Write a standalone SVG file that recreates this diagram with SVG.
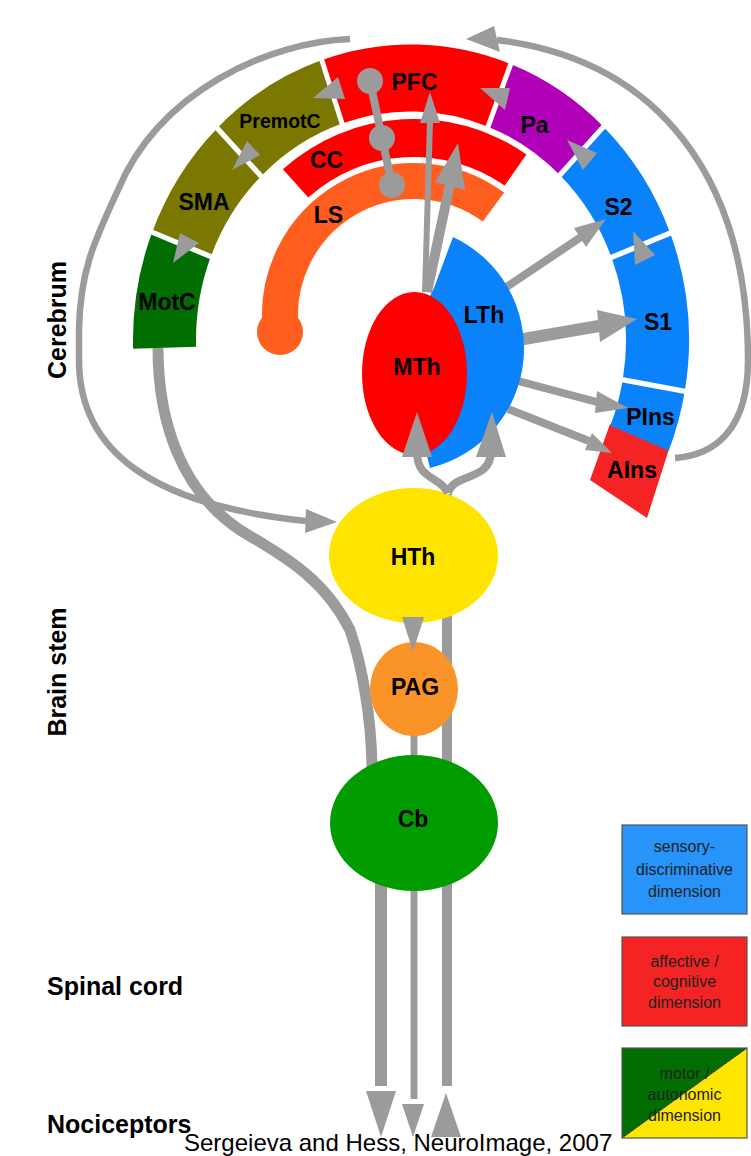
<svg xmlns="http://www.w3.org/2000/svg" width="751" height="1156" viewBox="0 0 751 1156">
<style>
text{font-family:"Liberation Sans",Arial,Helvetica,sans-serif}
.lb{font-weight:bold;font-size:23px;text-anchor:middle;fill:#000}
.side{font-weight:bold;font-size:25px;fill:#000}
.lg{font-size:16px;text-anchor:middle;fill:#222}
.ln{fill:none;stroke:#9b9b9b;stroke-linecap:butt;stroke-linejoin:round}
.ah{fill:#9b9b9b}
.gap{stroke:#fff;stroke-width:5}
.box{fill:none;stroke:#555;stroke-width:1.2}
</style>
<rect width="751" height="1156" fill="#fff"/>

<!-- outer ring segments -->
<g id="AIns"><path d="M610,424 L669,449 L647,518 L590,480 Z" fill="#f42424"/></g>
<g id="MotC"><path transform="matrix(1,0,0,1.063,411,340)" d="M-277.88,8.25 A278,278 0 0 1 -258.83,-101.44 L-200.18,-78.45 A215,215 0 0 0 -214.9,6.38 Z" fill="#006e00"/><text class="lb" x="167" y="310">MotC</text></g>
<g id="SMA"><path transform="matrix(1,0,0,1.063,411,340)" d="M-258.83,-101.44 A278,278 0 0 1 -193.81,-199.3 L-149.89,-154.14 A215,215 0 0 0 -200.18,-78.45 Z" fill="#7a7800"/><text class="lb" x="204" y="210">SMA</text></g>
<g id="PremotC"><path transform="matrix(1,0,0,1.063,411,340)" d="M-193.81,-199.3 A278,278 0 0 1 -89.13,-263.32 L-68.93,-203.65 A215,215 0 0 0 -149.89,-154.14 Z" fill="#7a7800"/><text class="lb" x="280" y="128" style="font-size:19.5px">PremotC</text></g>
<g id="PFC"><path transform="matrix(1,0,0,1.063,411,340)" d="M-89.13,-263.32 A278,278 0 0 1 99.63,-259.54 L77.05,-200.72 A215,215 0 0 0 -68.93,-203.65 Z" fill="#ff0000"/><text class="lb" x="414.5" y="90">PFC</text></g>
<g id="Pa"><path transform="matrix(1,0,0,1.063,411,340)" d="M99.63,-259.54 A278,278 0 0 1 192.41,-200.65 L148.81,-155.18 A215,215 0 0 0 77.05,-200.72 Z" fill="#b000b8"/><text class="lb" x="534.5" y="133">Pa</text></g>
<g id="S2"><path transform="matrix(1,0,0,1.063,411,340)" d="M192.41,-200.65 A278,278 0 0 1 259.19,-100.53 L200.45,-77.75 A215,215 0 0 0 148.81,-155.18 Z" fill="#0a82fa"/><text class="lb" x="618.5" y="215">S2</text></g>
<g id="S1"><path transform="matrix(1,0,0,1.063,411,340)" d="M259.19,-100.53 A278,278 0 0 1 273.78,48.27 L211.73,37.33 A215,215 0 0 0 200.45,-77.75 Z" fill="#0a82fa"/><text class="lb" x="658" y="330">S1</text></g>
<g id="PIns"><path transform="matrix(1,0,0,1.063,411,340)" d="M273.78,48.27 A278,278 0 0 1 257.76,104.14 L199.34,80.54 A215,215 0 0 0 211.73,37.33 Z" fill="#0a82fa"/><text class="lb" x="650.5" y="425">PIns</text></g>
<g id="AIns-label"><text class="lb" x="632" y="478">AIns</text></g>
<g id="ring-gaps" class="gap" transform="matrix(1,0,0,1.063,411,340)">
<line x1="-195.5" y1="-76.6" x2="-264.4" y2="-103.6"/>
<line x1="-146.4" y1="-150.5" x2="-198" y2="-203.6"/>
<line x1="-67.3" y1="-198.9" x2="-91.1" y2="-269"/>
<line x1="75.3" y1="-196.1" x2="101.8" y2="-265.1"/>
<line x1="145.4" y1="-151.6" x2="196.6" y2="-205"/>
<line x1="195.8" y1="-75.9" x2="264.8" y2="-102.7"/>
<line x1="206.8" y1="36.5" x2="279.7" y2="49.3"/>
</g>

<!-- inner arcs -->
<g id="CC"><path d="M282.85,169.34 A196,196 0 0 1 526.42,154.45 L504.63,185.57 A158,158 0 0 0 308.28,197.58 Z" fill="#ff0000"/><text class="lb" x="326.5" y="168">CC</text></g>
<g id="LS"><path d="M281.1,332 A134,134 0 0 1 493.5,207.1" fill="none" stroke="#ff5e1e" stroke-width="36"/><circle cx="280" cy="332" r="23" fill="#ff5e1e"/><text class="lb" x="328.5" y="223">LS</text></g>

<!-- connectors (behind lower nodes) -->
<g id="connectors">
<path class="ln" stroke-width="6.5" d="M350,39 C270,42 160,90 118,190 C95,240 80,270 79,330 L79,360 C79,450 150,505 306,521"/>
<polygon class="ah" points="337,522 306,509 305,533"/>
<path class="ln" stroke-width="6.5" d="M675,458 C715,455 748,430 748,360 C748,180 660,60 497,40"/>
<polygon class="ah" points="466,39 494,26 500,52"/>
<path class="ln" stroke-width="11" d="M158,348 C158,420 180,490 240,530 C290,560 325,580 350,630 C362,665 372,720 372,772"/>
<line class="ln" stroke-width="12" x1="381" y1="850" x2="381" y2="1086"/>
<polygon class="ah" points="381,1137 366,1091 396,1091"/>
<line class="ln" stroke-width="7" x1="414" y1="725" x2="414" y2="1099"/>
<polygon class="ah" points="413,1137 402,1104 424,1104"/>
<line class="ln" stroke-width="10" x1="447" y1="494" x2="447" y2="1086"/>
<polygon class="ah" points="446,1093 431,1137 461,1137"/>
<line class="ln" stroke-width="6" x1="425" y1="292" x2="430" y2="121"/>
<polygon class="ah" points="430,92 420,123 440,123"/>
<line class="ln" stroke-width="10" x1="427" y1="292" x2="450" y2="184"/>
<polygon class="ah" points="458,143 435,182 465,190"/>
<line class="ln" stroke-width="8" x1="505" y1="288" x2="581" y2="237"/>
<polygon class="ah" points="606,219 574,228 586,247"/>
<line class="ln" stroke-width="12" x1="518" y1="340" x2="599" y2="326"/>
<polygon class="ah" points="637,319 597,310 600,342"/>
<line class="ln" stroke-width="8" x1="518" y1="381" x2="597" y2="402"/>
<polygon class="ah" points="628,408 597,391 595,413"/>
<line class="ln" stroke-width="8" x1="508" y1="409" x2="589" y2="441"/>
<polygon class="ah" points="612,453 592,433 585,450"/>
<polygon class="ah" points="180,233 199,243 173,263"/>
<polygon class="ah" points="247,141 260,155 232,170"/>
<polygon class="ah" points="338,77 345,99 313,98"/>
<polygon class="ah" points="480,88 510,88 505,110"/>
<polygon class="ah" points="567,140 597,153 583,170"/>
<polygon class="ah" points="633,231 655,255 635,265"/>
<polyline class="ln" stroke-width="8" points="370,81 382,138 392,185"/>
<circle class="ah" cx="370" cy="81" r="13"/>
<circle class="ah" cx="382" cy="138" r="13"/>
<circle class="ah" cx="392" cy="185" r="13"/>
</g>

<!-- central nodes -->
<g id="LTh"><path d="M453,237 A123,123 0 0 1 430,468 L418,420 L418,320 L434,288 Z" fill="#0a82fa"/><text class="lb" x="484" y="323">LTh</text></g>
<g id="MTh"><ellipse cx="414.5" cy="373.5" rx="52.5" ry="81.5" fill="#ff0000"/><text class="lb" x="417" y="375">MTh</text></g>
<g id="HTh"><ellipse cx="413.5" cy="555.5" rx="84.5" ry="67.5" fill="#ffe400"/><text class="lb" x="413" y="565">HTh</text></g>
<g id="PAG"><ellipse cx="414" cy="689" rx="44" ry="47" fill="#fa9428"/><text class="lb" x="415" y="695">PAG</text></g>
<g id="Cb"><ellipse cx="414" cy="823" rx="84" ry="68" fill="#009c00"/><text class="lb" x="413" y="827">Cb</text></g>

<!-- connectors drawn over nodes -->
<g id="connectors-over">
<polygon class="ah" points="413,652 402,617 424,617"/>
<path class="ln" stroke-width="8" d="M448,493 C440,476 417,480 417,452"/>
<polygon class="ah" points="417,412 402,457 432,457"/>
<path class="ln" stroke-width="8" d="M448,493 C454,472 490,482 491,452"/>
<polygon class="ah" points="492,412 476,457 506,457"/>
</g>

<!-- level labels -->
<g id="levels">
<text class="side" text-anchor="middle" transform="translate(66,320) rotate(-90)">Cerebrum</text>
<text class="side" text-anchor="middle" transform="translate(66,672) rotate(-90)">Brain stem</text>
<text class="side" x="47" y="995">Spinal cord</text>
<text class="side" x="47" y="1133">Nociceptors</text>
</g>

<!-- legend -->
<g id="legend-sensory"><rect x="622" y="825" width="125" height="89" fill="#2893f8"/><rect class="box" x="622" y="825" width="125" height="89"/>
<text class="lg" x="684.5" y="852">sensory-</text><text class="lg" x="684.5" y="875">discriminative</text><text class="lg" x="684.5" y="897">dimension</text></g>
<g id="legend-affective"><rect x="622" y="937" width="125" height="89" fill="#f42424"/><rect class="box" x="622" y="937" width="125" height="89"/>
<text class="lg" x="684.5" y="967">affective /</text><text class="lg" x="684.5" y="987">cognitive</text><text class="lg" x="684.5" y="1008">dimension</text></g>
<g id="legend-motor"><polygon points="622,1048 747,1048 622,1138" fill="#006e00"/><polygon points="747,1048 747,1138 622,1138" fill="#ffe600"/><line x1="622" y1="1138" x2="747" y2="1048" stroke="#333" stroke-width="1"/><rect class="box" x="622" y="1048" width="125" height="90"/>
<text class="lg" x="684.5" y="1079">motor /</text><text class="lg" x="684.5" y="1100">autonomic</text><text class="lg" x="684.5" y="1121">dimension</text></g>

<text x="184" y="1151" style="font-size:24px;fill:#000">Sergeieva and Hess, NeuroImage, 2007</text>
</svg>
